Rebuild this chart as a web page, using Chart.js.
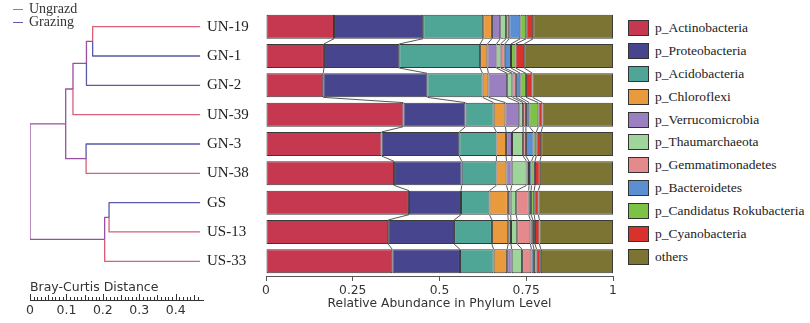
<!DOCTYPE html>
<html>
<head>
<meta charset="utf-8">
<script src="https://cdn.jsdelivr.net/npm/chart.js@4.4.1/dist/chart.umd.min.js"></script>
<style>
body { margin: 0; background: #fff; }
#wrap { position: relative; width: 810px; height: 323px; overflow: hidden; }
#tree { position: absolute; left: 0; top: 0; }
#bars { position: absolute; left: 200px; top: 0; }
.grp { position: absolute; left: 13px; font: 14px "Liberation Serif"; color: #333; line-height: 14px; }
.grp span { display: inline-block; width: 10px; border-top: 1.5px solid; vertical-align: middle; margin-right: 6px; }
#bctitle { position: absolute; left: 30px; top: 279px; font: 12.5px "DejaVu Sans"; color: #333; }
#legend { position: absolute; left: 628px; top: 16.5px; font: 13.5px "Liberation Serif"; color: #222; }
#legend div { height: 22.9px; display: flex; align-items: center; }
#legend i { width: 21px; height: 16px; border: 1px solid #333; margin-right: 6px; box-sizing: border-box; }
</style>
</head>
<body>
<div id="wrap">
  <canvas id="tree" width="206" height="323"></canvas>
  <canvas id="bars" width="420" height="323"></canvas>
  <div class="grp" style="top:2px"><span style="color:#d75f78"></span>Ungrazd</div>
  <div class="grp" style="top:15px"><span style="color:#5a5aa8"></span>Grazing</div>
  <div id="bctitle">Bray-Curtis Distance</div>
  <div id="legend"></div>
</div>
<script>
const samples = ['UN-19', 'GN-1', 'GN-2', 'UN-39', 'GN-3', 'UN-38', 'GS', 'US-13', 'US-33'];
const groups = ['U', 'G', 'G', 'U', 'G', 'U', 'G', 'U', 'U'];

const phyla = ['p_Actinobacteria', 'p_Proteobacteria', 'p_Acidobacteria', 'p_Chloroflexi',
    'p_Verrucomicrobia', 'p_Thaumarchaeota', 'p_Gemmatimonadetes', 'p_Bacteroidetes',
    'p_Candidatus Rokubacteria', 'p_Cyanobacteria', 'others'];
const colors = ['#c5384f', '#46458e', '#4fa596', '#e89a3c', '#9a80c0', '#9fd49b',
    '#e48a8c', '#5a8fd2', '#7cc244', '#d9322c', '#7b7433'];

// relative abundance per sample (same order as samples)
const actino = [0.196, 0.167, 0.165, 0.396, 0.333, 0.369, 0.412, 0.352, 0.364];
const proteo = [0.257, 0.217, 0.300, 0.179, 0.224, 0.195, 0.150, 0.190, 0.195];
const acido = [0.173, 0.233, 0.159, 0.081, 0.107, 0.100, 0.082, 0.109, 0.097];
const chloro = [0.025, 0.021, 0.017, 0.034, 0.028, 0.029, 0.053, 0.047, 0.039];
const verruco = [0.024, 0.026, 0.054, 0.040, 0.017, 0.015, 0.008, 0.008, 0.013];
const thaum = [0.017, 0.012, 0.015, 0.011, 0.032, 0.043, 0.016, 0.018, 0.030];
const gemmat = [0.009, 0.012, 0.010, 0.008, 0.008, 0.007, 0.036, 0.038, 0.027];
const bactero = [0.032, 0.018, 0.013, 0.010, 0.022, 0.007, 0.007, 0.007, 0.007];
const rokuba = [0.017, 0.013, 0.016, 0.026, 0.008, 0.010, 0.009, 0.006, 0.008];
const cyano = [0.020, 0.025, 0.019, 0.012, 0.014, 0.014, 0.012, 0.013, 0.012];
const others = [0.230, 0.256, 0.232, 0.203, 0.207, 0.211, 0.215, 0.212, 0.208];
const series = [actino, proteo, acido, chloro, verruco, thaum, gemmat, bactero, rokuba, cyano, others];

// dendrogram merges: node 9.. in order, position on the Bray-Curtis bar (0 = root)
const mergeA = [0, 9, 10, 4, 11, 6, 14, 13];
const mergeB = [1, 2, 3, 5, 12, 7, 8, 15];
const mergeX = [0.172, 0.155, 0.118, 0.154, 0.098, 0.217, 0.205, 0.0];
const leafX = 0.467;

const groupColor = { U: '#d75f78', G: '#5a5aa8', M: '#9a50a0' };

// legend
const lg = document.getElementById('legend');
phyla.forEach((p, i) => {
    let d = document.createElement('div');
    d.innerHTML = `<i style="background:${colors[i]}"></i>${p}`;
    lg.appendChild(d);
});

// ---- dendrogram ----
const nodeX = samples.map(() => leafX);
const nodeY = samples.map((s, i) => i);
const nodeG = groups.slice();
mergeA.forEach((a, k) => {
    const b = mergeB[k];
    nodeX.push(mergeX[k]);
    nodeY.push((nodeY[a] + nodeY[b]) / 2);
    nodeG.push(nodeG[a] === nodeG[b] ? nodeG[a] : 'M');
});

const edges = [];
mergeA.forEach((a, k) => {
    const px = mergeX[k];
    const py = nodeY[samples.length + k];
    [a, mergeB[k]].forEach(c => {
        edges.push({
            data: [{ x: px, y: py }, { x: px, y: nodeY[c] }, { x: nodeX[c], y: nodeY[c] }],
            showLine: true,
            borderColor: groupColor[nodeG[c]],
            borderWidth: 1.3,
            pointRadius: 0,
            borderJoinStyle: 'round',
            fill: false
        });
    });
});

const upTicks = {
    id: 'upTicks',
    afterDraw(chart) {
        const s = chart.scales.x;
        const ctx = chart.ctx;
        ctx.save();
        ctx.strokeStyle = '#333';
        ctx.lineWidth = 1;
        s.ticks.forEach(t => {
            const v = Math.round(t.value * 100);
            if (v > 47) return;
            const len = v % 10 === 0 ? 6 : (v % 5 === 0 ? 5 : 3);
            const px = Math.round(s.getPixelForValue(t.value)) + 0.5;
            ctx.beginPath();
            ctx.moveTo(px, s.top);
            ctx.lineTo(px, s.top - len);
            ctx.stroke();
        });
        ctx.restore();
    }
};

new Chart('tree', {
    type: 'scatter',
    data: { datasets: edges },
    options: {
        responsive: false,
        animation: false,
        layout: { padding: { left: 30, top: 12, right: 1, bottom: 0 } },
        plugins: { legend: { display: false }, tooltip: { enabled: false } },
        scales: {
            x: {
                min: 0, max: 0.475,
                grid: { display: false, drawTicks: false },
                border: { display: true, color: '#333', width: 1 },
                ticks: {
                    stepSize: 0.01, autoSkip: false, maxRotation: 0, padding: 3,
                    color: '#333', font: { family: 'DejaVu Sans', size: 12.5 },
                    callback: v => {
                        const n = Math.round(v * 100);
                        return n % 10 === 0 ? String(n / 100) : '';
                    }
                },
                afterFit: s => { s.height = 23; }
            },
            y: { display: false, min: -0.5, max: 9.32, reverse: true }
        }
    },
    plugins: [upTicks]
});

// ---- stacked bars ----
const links = {
    id: 'links',
    afterDatasetsDraw(chart) {
        const ctx = chart.ctx;
        ctx.save();
        ctx.strokeStyle = '#444';
        ctx.lineWidth = 0.9;
        for (let k = 0; k < series.length - 1; k++) {
            const els = chart.getDatasetMeta(k).data;
            for (let i = 0; i < els.length - 1; i++) {
                const a = els[i], b = els[i + 1];
                ctx.beginPath();
                ctx.moveTo(a.x, a.y + a.height / 2);
                ctx.lineTo(b.x, b.y - b.height / 2);
                ctx.stroke();
            }
        }
        ctx.restore();
    }
};

new Chart('bars', {
    type: 'bar',
    data: {
        labels: samples,
        datasets: series.map((d, i) => ({
            label: phyla[i],
            data: d,
            backgroundColor: colors[i],
            borderColor: '#3a3a3a',
            borderWidth: 1,
            borderSkipped: false,
            barPercentage: 0.82,
            categoryPercentage: 1
        }))
    },
    options: {
        indexAxis: 'y',
        responsive: false,
        animation: false,
        layout: { padding: { left: 7, top: 12, right: 7, bottom: 0 } },
        plugins: { legend: { display: false }, tooltip: { enabled: false } },
        scales: {
            x: {
                stacked: true, min: 0, max: 1,
                grid: { drawOnChartArea: false, tickLength: 5, color: '#555' },
                border: { color: '#555' },
                ticks: {
                    stepSize: 0.25, color: '#333', font: { family: 'DejaVu Sans', size: 12.3 }, padding: 2,
                    callback: v => String(Math.round(v * 100) / 100)
                },
                title: {
                    display: true, text: 'Relative Abundance in Phylum Level', color: '#333',
                    font: { family: 'DejaVu Sans', size: 12.3 }, padding: { top: 0, bottom: 12 }
                },
                afterFit: s => { s.height = 47; }
            },
            y: {
                stacked: true,
                grid: { display: false },
                border: { display: false },
                ticks: { crossAlign: 'far', color: '#222', font: { family: 'Liberation Serif', size: 15 } },
                afterFit: s => { s.width = 59; }
            }
        }
    },
    plugins: [links]
});
</script>
</body>
</html>
